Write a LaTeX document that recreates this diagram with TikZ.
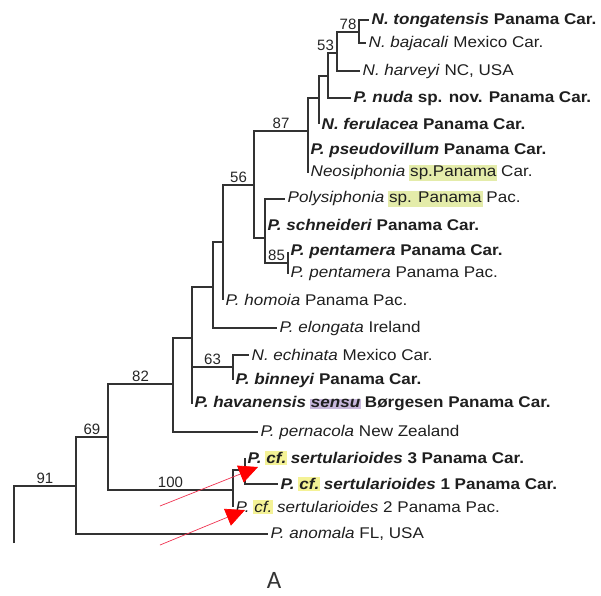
\documentclass[tikz,border=0pt]{standalone}
\usepackage{fontspec}
\setmainfont{Liberation Sans}[FakeStretch=1.1]
\newfontfamily\numfont{Liberation Sans}
\newfontfamily\panelfont{Carlito}
\usetikzlibrary{arrows.meta}

\definecolor{treeline}{RGB}{50,50,50}
\definecolor{hlgreen}{RGB}{228,236,170}
\definecolor{hlyellow}{RGB}{244,242,150}
\definecolor{hlpurple}{RGB}{200,184,220}
\definecolor{arrowred}{RGB}{240,50,80}

% highlighted words and bold italic names
\newcommand{\hlbox}[2]{{\setlength{\fboxsep}{1pt}\hspace{-1pt}\colorbox{#1}{#2}\hspace{-1pt}}}
\newcommand{\spc}[1]{\textbf{\textit{#1}}}

\begin{document}
\begin{tikzpicture}[
    x=1pt, y=-1pt,
    branch/.style={draw=treeline, line width=1.8pt},
    taxon/.style={anchor=west, inner sep=1pt, xshift=1.5pt,
        font=\fontsize{15.5}{18}\selectfont, text=black!88},
    support/.style={above, pos=0.75, inner sep=1.5pt,
        font=\numfont\fontsize{15}{17}\selectfont, text=black!85},
    pointer/.style={draw=arrowred, line width=0.7pt,
        -{Triangle[length=19pt, width=18pt, color=red]}},
]
\useasboundingbox[fill=white] (0,0) rectangle (601,595);

% internal nodes
\coordinate (rootEnd) at (14,543);
\coordinate (n91) at (76,486);
\coordinate (n69) at (108,437);
\coordinate (n82) at (173,384);
\coordinate (nHav) at (192,338);
\coordinate (n63) at (233,367);
\coordinate (nElo) at (213,287);
\coordinate (nHom) at (223,242);
\coordinate (n56) at (254,185);
\coordinate (nPoly) at (265,238);
\coordinate (n85) at (288,263);
\coordinate (n87) at (308,131);
\coordinate (nFer) at (319,98);
\coordinate (nNuda) at (328,76);
\coordinate (n53) at (337,53);
\coordinate (n78) at (359,32);
\coordinate (n100) at (233,490);
\coordinate (nSert) at (245,470);

% tips
\coordinate (tTong) at (369,20);
\coordinate (tBaja) at (366,43);
\coordinate (tHarv) at (360,71);
\coordinate (tNuda) at (351,98);
\coordinate (tFeru) at (319,124);
\coordinate (tPseu) at (308,150);
\coordinate (tNeos) at (308,173);
\coordinate (tPoly) at (285,199);
\coordinate (tSchn) at (265,225);
\coordinate (tPenC) at (288,252);
\coordinate (tPenP) at (288,274);
\coordinate (tHomo) at (223,300);
\coordinate (tElon) at (277,328);
\coordinate (tEchi) at (249,355);
\coordinate (tBinn) at (233,380);
\coordinate (tHava) at (192,404);
\coordinate (tPern) at (258,432);
\coordinate (tSer3) at (245,458);
\coordinate (tSer1) at (278,484);
\coordinate (tSer2) at (233,507);
\coordinate (tAnom) at (268,534);

% supported branches
\foreach \p/\c/\l in {rootEnd/n91/91, n91/n69/69, n69/n82/82, n69/n100/100,
    nHav/n63/63, nHom/n56/56, n56/n87/87, nPoly/n85/85, n53/n78/78}
  \draw[branch] (\p) |- node[support] {\l} (\c);
\draw[branch] (nNuda) |- node[support, xshift=-7pt] {53} (n53);

% other branches
\foreach \p/\c in {n82/nHav, nHav/nElo, nElo/nHom, n56/nPoly, n87/nFer,
    nFer/nNuda, n100/nSert,
    n78/tTong, n78/tBaja, n53/tHarv, nNuda/tNuda, nFer/tFeru, n87/tPseu,
    n87/tNeos, nPoly/tPoly, nPoly/tSchn, n85/tPenC, n85/tPenP, nHom/tHomo,
    nElo/tElon, n63/tEchi, n63/tBinn, nHav/tHava, n82/tPern, nSert/tSer3,
    nSert/tSer1, n100/tSer2, n91/tAnom}
  \draw[branch] (\p) |- (\c);

% taxon labels
\node[taxon] (lTong) at (tTong) {\spc{N. tongatensis} \textbf{Panama Car.}};
\node[taxon] (lBaja) at (tBaja) {\textit{N. bajacali} Mexico Car.};
\node[taxon] (lHarv) at (tHarv) {\textit{N. harveyi} NC, USA};
\node[taxon] (lNuda) at (tNuda) {\spc{P. nuda} \textbf{sp. nov. Panama Car.}};
\node[taxon] (lFeru) at (tFeru) {\spc{N. ferulacea} \textbf{Panama Car.}};
\node[taxon] (lPseu) at (tPseu) {\spc{P. pseudovillum} \textbf{Panama Car.}};
\node[taxon] (lNeos) at (tNeos) {\textit{Neosiphonia} \hlbox{hlgreen}{sp.Panama} Car.};
\node[taxon] (lPoly) at (tPoly) {\textit{Polysiphonia} \hlbox{hlgreen}{sp. Panama} Pac.};
\node[taxon] (lSchn) at (tSchn) {\spc{P. schneideri} \textbf{Panama Car.}};
\node[taxon] (lPenC) at (tPenC) {\spc{P. pentamera} \textbf{Panama Car.}};
\node[taxon] (lPenP) at (tPenP) {\textit{P. pentamera} Panama Pac.};
\node[taxon] (lHomo) at (tHomo) {\textit{P. homoia} Panama Pac.};
\node[taxon] (lElon) at (tElon) {\textit{P. elongata} Ireland};
\node[taxon] (lEchi) at (tEchi) {\textit{N. echinata} Mexico Car.};
\node[taxon] (lBinn) at (tBinn) {\spc{P. binneyi} \textbf{Panama Car.}};
\node[taxon] (lHava) at (tHava) {\spc{P. havanensis} \hlbox{hlpurple}{\spc{sensu}} \textbf{Børgesen Panama Car.}};
\node[taxon] (lPern) at (tPern) {\textit{P. pernacola} New Zealand};
\node[taxon] (lSer3) at (tSer3) {\spc{P.} \hlbox{hlyellow}{\spc{cf.}} \spc{sertularioides} \textbf{3 Panama Car.}};
\node[taxon] (lSer1) at (tSer1) {\spc{P.} \hlbox{hlyellow}{\spc{cf.}} \spc{sertularioides} \textbf{1 Panama Car.}};
\node[taxon] (lSer2) at (tSer2) {\textit{P.} \hlbox{hlyellow}{\textit{cf.}} \textit{sertularioides} 2 Panama Pac.};
\node[taxon] (lAnom) at (tAnom) {\textit{P. anomala} FL, USA};

% red pointers
\coordinate (p1s) at (160,506);
\coordinate (p1e) at (258,467);
\coordinate (p2s) at (160,545);
\coordinate (p2e) at (245,510);
\draw[pointer] (p1s) -- (p1e);
\draw[pointer] (p2s) -- (p2e);

\node[font=\panelfont\fontsize{25}{28}\selectfont, text=black!80] (panel) at (274,580) {A};
\end{tikzpicture}
\end{document}
